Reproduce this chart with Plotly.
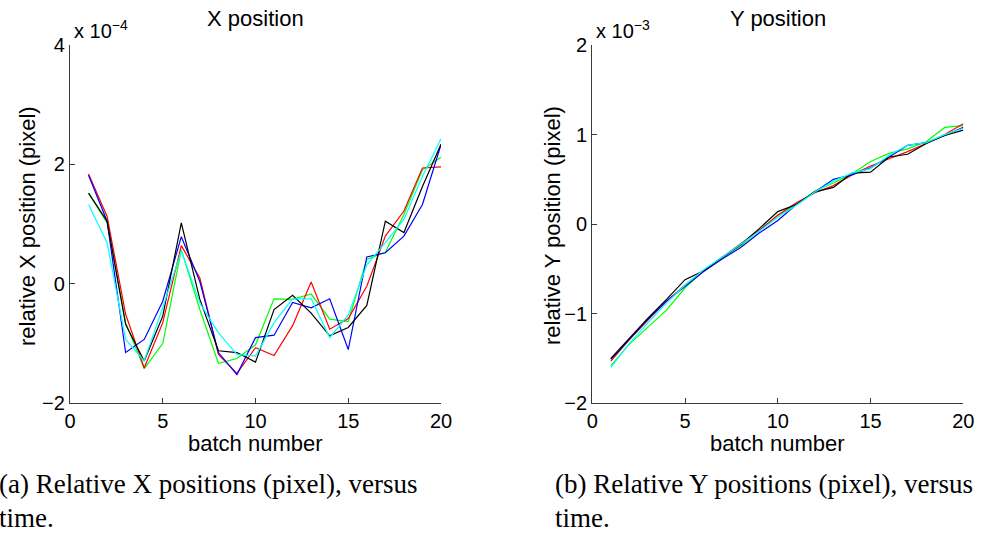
import plotly.graph_objects as go

W, H = 981, 535

batch = list(range(1, 21))

# Left panel: relative X position, in units of 1e-4 pixel
x_red = [1.84, 1.13, -0.51, -1.41, -0.65, 0.64, 0.10, -1.18, -1.50, -1.07, -1.20, -0.70, 0.03, -0.76, -0.58, -0.04, 0.80, 1.22, 1.94, 1.96]
x_blue = [1.82, 1.05, -1.15, -0.93, -0.29, 0.79, 0.04, -1.15, -1.52, -0.90, -0.86, -0.31, -0.40, -0.25, -1.10, 0.45, 0.52, 0.80, 1.33, 2.33]
x_black = [1.52, 1.05, -0.68, -1.29, -0.54, 1.02, -0.26, -1.12, -1.15, -1.31, -0.43, -0.19, -0.49, -0.87, -0.73, -0.36, 1.05, 0.86, 1.63, 2.34]
x_green = [1.52, 1.02, -0.65, -1.42, -1.00, 0.57, -0.43, -1.33, -1.25, -1.02, -0.25, -0.26, -0.17, -0.59, -0.63, 0.41, 0.53, 1.16, 1.91, 2.12]
x_cyan = [1.33, 0.69, -0.93, -1.29, -0.40, 0.55, -0.32, -0.82, -1.18, -1.21, -0.65, -0.25, -0.25, -0.90, -0.52, 0.32, 0.69, 1.08, 1.80, 2.43]
x_scale = 1e-4

# Right panel: relative Y position, in units of 1e-3 pixel
y_red = [-1.53, -1.29, -1.07, -0.86, -0.68, -0.52, -0.37, -0.22, -0.07, 0.10, 0.24, 0.35, 0.43, 0.55, 0.65, 0.73, 0.81, 0.90, 1.00, 1.12]
y_blue = [-1.51, -1.28, -1.06, -0.86, -0.69, -0.53, -0.39, -0.26, -0.10, 0.04, 0.22, 0.36, 0.50, 0.55, 0.63, 0.75, 0.88, 0.91, 0.99, 1.08]
y_black = [-1.50, -1.27, -1.05, -0.84, -0.62, -0.52, -0.37, -0.23, -0.05, 0.14, 0.22, 0.36, 0.41, 0.57, 0.58, 0.75, 0.78, 0.90, 0.99, 1.05]
y_green = [-1.58, -1.34, -1.15, -0.96, -0.71, -0.52, -0.37, -0.24, -0.07, 0.10, 0.22, 0.37, 0.46, 0.56, 0.70, 0.79, 0.84, 0.92, 1.08, 1.10]
y_cyan = [-1.60, -1.33, -1.10, -0.88, -0.68, -0.51, -0.37, -0.23, -0.08, 0.08, 0.21, 0.36, 0.48, 0.57, 0.62, 0.77, 0.88, 0.91, 1.00, 1.07]
y_scale = 1e-3

x_ticks = [0, 5, 10, 15, 20]
left_yticks = [-2, 0, 2, 4]
right_yticks = [-2, -1, 0, 1, 2]

colors = {"red": "#ff0000", "blue": "#0000ff", "black": "#000000", "green": "#00ff00", "cyan": "#00ffff"}

fig = go.Figure()
left = [("green", x_green), ("red", x_red), ("blue", x_blue), ("black", x_black), ("cyan", x_cyan)]
right = [("green", y_green), ("red", y_red), ("blue", y_blue), ("black", y_black), ("cyan", y_cyan)]
for name, vals in left:
    fig.add_trace(go.Scatter(x=batch, y=[v * x_scale for v in vals], mode="lines",
                             line=dict(color=colors[name], width=1.2), xaxis="x", yaxis="y",
                             showlegend=False, hoverinfo="skip"))
for name, vals in right:
    fig.add_trace(go.Scatter(x=batch, y=[v * y_scale for v in vals], mode="lines",
                             line=dict(color=colors[name], width=1.2), xaxis="x2", yaxis="y2",
                             showlegend=False, hoverinfo="skip"))

def px(xp):
    return xp / W

def py(yp):
    return 1 - yp / H

lx0, lx1 = 70, 441
rx0, rx1 = 592.3, 963.3
yt, yb = 45, 403.3

sans = "Liberation Sans, Arial, sans-serif"
serif = "Liberation Serif, Times New Roman, serif"
tickfont = dict(family=sans, size=20, color="black")
axcol = "#3a3a3a"

def fmt(v):
    return ("\u2212" + str(abs(v))) if v < 0 else str(v)

common_x = dict(range=[0, 20], tickvals=x_ticks, ticktext=[str(t) for t in x_ticks],
                showline=True, linecolor=axcol, linewidth=1.3, ticks="inside", ticklen=5,
                tickcolor=axcol, showgrid=False, zeroline=False, tickfont=tickfont,
                fixedrange=True, automargin=False)
common_y = dict(showline=True, linecolor=axcol, linewidth=1.3, ticks="inside", ticklen=5,
                tickcolor=axcol, showgrid=False, zeroline=False, tickfont=tickfont,
                fixedrange=True, automargin=False)

fig.update_layout(
    width=W, height=H, autosize=False,
    margin=dict(l=0, r=0, t=0, b=0, pad=0),
    paper_bgcolor="white", plot_bgcolor="white",
    xaxis=dict(domain=[px(lx0), px(lx1)], anchor="y", **common_x),
    yaxis=dict(domain=[py(yb), py(yt)], anchor="x", range=[-2 * x_scale, 4 * x_scale],
               tickvals=[t * x_scale for t in left_yticks], ticktext=[fmt(t) for t in left_yticks], **common_y),
    xaxis2=dict(domain=[px(rx0), px(rx1)], anchor="y2", **common_x),
    yaxis2=dict(domain=[py(yb), py(yt)], anchor="x2", range=[-2 * y_scale, 2 * y_scale],
                tickvals=[t * y_scale for t in right_yticks], ticktext=[fmt(t) for t in right_yticks], **common_y),
)

ann = []
def add(text, x, y, size, family=sans, xanchor="center", yanchor="middle", angle=0):
    ann.append(dict(text=text, x=x, y=y, xref="paper", yref="paper", showarrow=False,
                    xanchor=xanchor, yanchor=yanchor, textangle=angle,
                    font=dict(family=family, size=size, color="black")))

add("X position", px((lx0 + lx1) / 2), py(19), 22)
add("Y position", px((rx0 + rx1) / 2), py(19), 22)
add("x 10<sup>\u22124</sup>", px(72), py(44), 20, xanchor="left", yanchor="bottom")
add("x 10<sup>\u22123</sup>", px(594), py(44), 20, xanchor="left", yanchor="bottom")
add("batch number", px((lx0 + lx1) / 2), py(443), 22)
add("batch number", px((rx0 + rx1) / 2), py(443), 22)
add("relative X position (pixel)", px(28), py(226), 22, angle=-90)
add("relative Y position (pixel)", px(553), py(226), 22, angle=-90)
add("(a) Relative X positions (pixel), versus", px(-3), py(484), 27, family=serif, xanchor="left")
add("time.", px(-3), py(518), 27, family=serif, xanchor="left")
add("(b) Relative Y positions (pixel), versus", px(553), py(484), 27, family=serif, xanchor="left")
add("time.", px(553), py(518), 27, family=serif, xanchor="left")
fig.update_layout(annotations=ann)

fig.write_html("out.html", config={"displayModeBar": False},
               post_script="document.body.style.margin='0';document.body.style.overflow='hidden';")
